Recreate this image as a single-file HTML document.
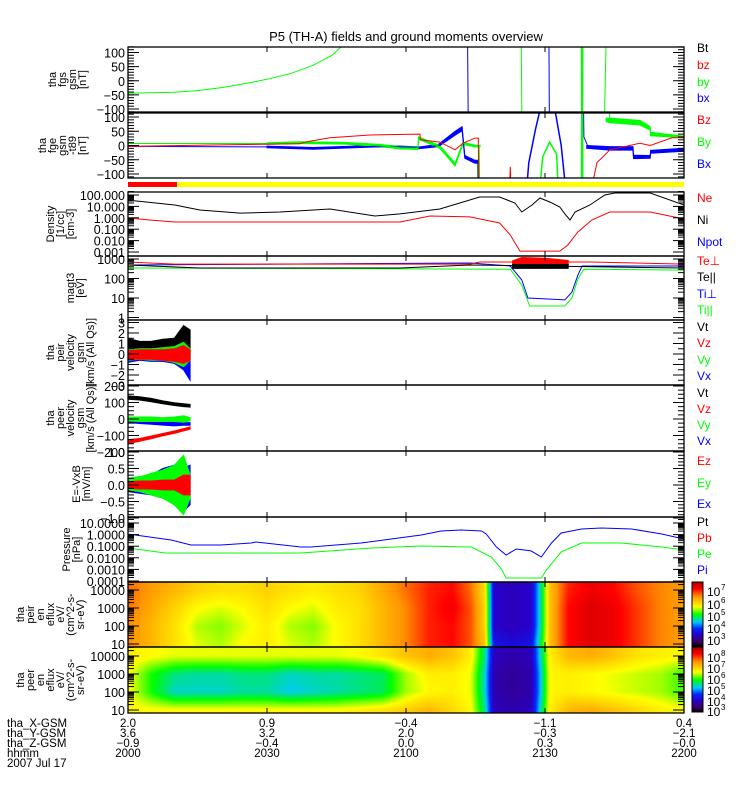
<!DOCTYPE html>
<html><head><meta charset="utf-8">
<style>
html,body{margin:0;padding:0;background:#fff;}
#wrap{position:relative;width:750px;height:800px;overflow:hidden;}
canvas{position:absolute;left:0;top:0;}
svg{position:absolute;left:0;top:0;}
text{font-family:"Liberation Sans",sans-serif;}
</style></head>
<body>
<div id="wrap">
<canvas id="cv" width="750" height="800"></canvas>
<svg id="sv" width="750" height="800" xmlns="http://www.w3.org/2000/svg"></svg>
</div>
<script>
// ---------- DATA ----------
const hhmmLabels=["2000","2030","2100","2130","2200"];
const xGsm=["2.0","0.9","-0.4","-1.1","0.4"];
const yGsm=["3.6","3.2","2.0","-0.3","-2.1"];
const zGsm=["-0.9","-0.4","0.0","0.3","-0.0"];

// panel 1 fgs
const p1GreenT=[0,10,15,20,26,30,35,40,44,46];
const p1GreenV=[-44,-41,-35,-25,-8,5,25,55,90,120];
const p1Blue1T=[73.2,73.5]; const p1Blue1V=[300,-300];
const p1Green2T=[84.8,85.1]; const p1Green2V=[300,-300];
const p1Blue2T=[90.8,91.0]; const p1Blue2V=[300,-300];
const p1Green3T=[97.9,98.0,98.1]; const p1Green3V=[300,-300,300];
const p1Green4T=[102.6,103.4]; const p1Green4V=[-300,300];

// panel 2 fge-t89
const p2RedAT=[0,20,37,38.6,43.6,52.2,63,63.1,67.3,70.6,72.3,74.9,75.6,75.8];
const p2RedAV=[-3,2,6,13,27,37,40,20,12,-15,8,26,26,-300];
const p2RedBT=[82,82.5,83]; const p2RedBV=[-300,-75,-300];
const p2RedCT=[98.2,101.2,102.5,104,110.5,112.7,117.4,120];
const p2RedCV=[-300,-60,-40,-15,8,0,27,27];
const p2GreenAT=[0,30,37,46.8,54.4,58.7,62.6,62.7,67.3,70.6,72.3,74.9,75.8,76];
const p2GreenAV=[7,7,10,8,0,-8,-10,26,-5,-68,8,-2,-2,-300];
const p2GreenBT=[88,89.5,91,92.5,93.3]; const p2GreenBV=[-300,-40,12,-30,-300];
const p2GreenCT=[97.9,98.0,98.1]; const p2GreenCV=[-300,300,-300];
const p2GreenDT=[103.2,104,110.5,112.7,112.8,117.4,120];
const p2GreenDV=[300,90,80,60,40,32,30];
const p2BlueAT=[0,30,40,54.4,63,67.3,70.6,72.1,72.7,74.9,75.5,75.6];
const p2BlueAV=[-3,-5,-10,-2,-8,0,43,60,-40,-57,-57,-300];
const p2BlueBT=[85.3,86.5,88,89,91,92.2,93.5,95.4];
const p2BlueBV=[-300,-60,60,130,130,120,0,-300];
const p2BlueCT=[98.2,98.4,99.3,104,109,109.1,112.7,112.8,120];
const p2BlueCV=[300,30,-5,-10,-10,-40,-40,-22,-15];
const p2BlueBand1T=[30,40,54,63,67,70.6,72.1,72.7,74.9,75.5];
const p2BlueBand1Lo=[-8,-13,-5,-11,-4,36,52,-45,-62,-62];
const p2BlueBand1Hi=[-2,-7,1,-5,4,50,66,-35,-52,-52];
const p2GreenBand1T=[30,37,46.8,54.4,58.7,62.6,62.7,67.3,70.6,72.3,74.9,76];
const p2GreenBand1Lo=[4,7,5,-4,-12,-14,22,-10,-72,4,-5,-5];
const p2GreenBand1Hi=[10,13,11,4,-4,-6,30,0,-62,12,1,1];
const p2GreenBand2T=[103.2,104,110.5,112.7,112.8,120];
const p2GreenBand2Lo=[84,80,72,54,34,27];
const p2GreenBand2Hi=[96,96,88,66,46,33];
const p2BlueBand2T=[99,104,109,109.1,112.7,112.8,120];
const p2BlueBand2Lo=[-10,-16,-16,-46,-45,-27,-20];
const p2BlueBand2Hi=[0,-4,-4,-34,-35,-17,-10];

// density
const denBlackT=[0,10.1,15.5,24.2,32.8,43.6,53.3,58.7,67.3,75.9,80.2,83.5,85,87.2,88.9,91.1,93.2,94.3,95.4,96.5,99.7,102.9,105.1,112.7,120];
const denBlackV=[36,13.2,4.8,2.6,3.2,5.9,1.45,2.2,5.9,67,67,20,3.2,13.2,55,24,8.9,2.2,0.64,3.2,13.2,100,150,150,13.2];
const denRedT=[0,4.7,10.1,58.7,65.2,73.8,80.2,82.5,84.6,93.2,94.9,97.1,100.1,104,112.7,120];
const denRedV=[0.96,0.64,0.43,0.43,1.45,1.2,0.35,0.031,0.0012,0.0012,0.004,0.057,0.64,3.2,3.2,0.78];

// magt3 temperatures (eV)
const teperpT=[0,10.1,73.8,75.9,99.7,120]; const teperpV=[700,550,550,700,700,550];
const teparT=[0,15.5,58.7,73.8,120]; const teparV=[490,345,345,490,345];
const tiperpT=[0,73.8,82.5,85,86.3,94.3,95.8,97.1,98,120];
const tiperpV=[490,620,440,84,10,8,20,150,440,440];
const tiparT=[0,82.5,85,86.7,94.3,95.8,97.1,98.4,120];
const tiparV=[345,300,46,3.9,3.9,10,94,300,270];
const teperpNoiseT=[83,85,90,95]; const teperpNoiseLo=[520,520,520,520]; const teperpNoiseHi=[800,1200,1100,850];
const teparNoiseT=[83,95]; const teparNoiseLo=[330,330]; const teparNoiseHi=[520,520];

// velocities / E field (noisy: low/high envelopes)
const velT=[0,2.5,5,7.5,10,12,13.4];
const peirVtLo=[0,0.1,0.1,0.2,0.2,0.4,0.5], peirVtHi=[1.5,1.2,1.2,1.4,1.5,2.7,2.3];
const peirVxLo=[-0.8,-0.6,-0.7,-0.7,-0.9,-1.5,-2.5], peirVxHi=[0.3,0.3,0.4,0.4,0.5,0.6,0.4];
const peirVyLo=[-0.6,-0.5,-0.6,-0.6,-0.8,-1.2,-0.6], peirVyHi=[0.4,0.5,0.5,0.6,0.7,1.1,0.5];
const peirVzLo=[-0.5,-0.5,-0.5,-0.6,-0.7,-0.9,-0.6], peirVzHi=[0.3,0.4,0.4,0.4,0.5,0.8,0.4];
const peerVtLo=[120,115,105,92,82,75,72], peerVtHi=[140,135,125,110,98,92,88];
const peerVyLo=[-12,-15,-15,-15,-15,-20,-12], peerVyHi=[12,12,12,8,12,20,8];
const peerVxLo=[-22,-27,-32,-37,-42,-38,-38], peerVxHi=[-8,-8,-13,-18,-18,-22,-22];
const peerVzLo=[-150,-135,-120,-102,-87,-72,-62], peerVzHi=[-125,-118,-103,-88,-73,-58,-48];
const exLo=[-0.2,-0.25,-0.3,-0.4,-0.5,-0.8,-0.6], exHi=[0.2,0.25,0.3,0.5,0.6,0.5,0.6];
const eyLo=[-0.15,-0.2,-0.3,-0.4,-0.6,-0.9,-0.4], eyHi=[0.2,0.25,0.35,0.45,0.6,0.9,0.3];
const ezLo=[-0.1,-0.12,-0.12,-0.15,-0.15,-0.3,-0.3], ezHi=[0.1,0.12,0.12,0.15,0.15,0.3,0.3];

// pressure
const piT=[0,9.3,13.6,20.1,26.6,27.6,37.3,39.5,50.3,56.8,63.3,67.6,71.9,76.3,77.3,79.5,81.6,83.8,87,89.2,91.4,93.5,97.9,102.2,108.7,115.2,120];
const piV=[1.13,0.34,0.126,0.126,0.19,0.23,0.086,0.086,0.19,0.42,0.93,2.04,2.5,2.04,1.13,0.086,0.0175,0.057,0.039,0.0118,0.19,1.37,3.04,3.7,3.04,1.13,0.42];
const peT=[0,8.0,15.5,24.2,37.3,43.8,52.5,63.3,74.1,78.4,80.6,81.6,89.2,90.3,93.5,97.9,106.5,115.2,120];
const peV=[0.07,0.026,0.026,0.026,0.026,0.039,0.07,0.104,0.086,0.0118,0.00108,0.00018,0.00018,0.00089,0.032,0.19,0.19,0.086,0.047];

// spectrograms (log10 energy flux)
const specT=[0,5,10,15,20,25,30,35,40,45,50,55,60,65,70,74,77,79,83,87,89,91,95,100,105,110,115,120];
const specE=[4,3,2,1];
const ionFlux10k=[6.5,6.3,6.1,5.9,5.8,5.8,5.9,5.8,5.7,5.8,5.9,6.2,6.5,6.8,6.9,6.5,5.8,3.5,3.4,3.5,4.6,6.0,6.8,7.0,6.9,6.6,6.4,6.3];
const ionFlux1k=[6.5,6.2,5.9,5.6,5.5,5.6,5.8,5.6,5.5,5.7,5.8,6.1,6.4,6.8,7.0,6.6,5.9,3.5,3.4,3.5,4.6,6.0,6.9,7.1,7.0,6.7,6.4,6.3];
const ionFlux100=[6.4,6.1,5.8,5.4,5.3,5.5,5.7,5.4,5.3,5.6,5.8,6.1,6.4,6.8,6.9,6.6,5.9,3.5,3.4,3.5,4.6,6.0,6.9,7.1,7.0,6.7,6.4,6.3];
const ionFlux10=[6.4,6.1,5.8,5.5,5.4,5.6,5.7,5.5,5.4,5.6,5.8,6.1,6.4,6.8,6.9,6.6,6.0,3.7,3.6,3.7,4.8,6.0,6.9,7.1,7.0,6.7,6.4,6.3];
const eleFlux10k=[6.4,6.3,6.2,6.2,6.2,6.2,6.2,6.2,6.2,6.2,6.3,6.5,6.8,7.0,6.8,6.4,5.2,3.6,3.5,3.6,5.0,6.4,6.9,7.0,6.8,6.5,6.4,6.3];
const eleFlux1k=[6.3,5.6,5.2,5.1,5.1,5.2,5.2,5.0,5.1,5.1,5.2,5.3,6.0,6.4,6.4,6.2,5.0,3.5,3.4,3.5,4.8,6.3,6.4,6.3,6.2,6.1,6.0,5.7];
const eleFlux100=[6.3,5.6,5.0,5.0,5.0,5.1,5.1,4.9,5.0,5.1,5.2,5.3,6.0,6.3,6.4,6.2,5.0,3.5,3.4,3.5,4.8,6.3,6.4,6.3,6.2,6.1,6.0,5.7];
const eleFlux10=[6.3,6.3,6.3,6.3,6.3,6.3,6.3,6.3,6.3,6.3,6.4,6.5,6.7,6.9,6.6,6.3,5.2,3.6,3.5,3.6,5.0,6.4,6.9,7.0,6.8,6.6,6.4,6.3];

// ---------- RENDER ----------
const NS="http://www.w3.org/2000/svg";
const sv=document.getElementById('sv');
const X0=128,X1=684;
const tx=t=>X0+t*(X1-X0)/120;
function el(tag,attrs,parent){const e=document.createElementNS(NS,tag);for(const k in attrs)e.setAttribute(k,attrs[k]);(parent||sv).appendChild(e);return e;}
function txt(s,x,y,attrs,parent){const e=el('text',Object.assign({x:x,y:y,'font-size':12},attrs||{}),parent);e.textContent=s;return e;}
const lg=v=>Math.log10(Math.max(v,1e-9));
const panels=[
 {id:'fgs',top:47,bot:112,y:v=>80.75-v*0.2825},
 {id:'fge',top:113,bot:178,y:v=>145.5-v*0.285},
 {id:'density',top:192,bot:256,y:v=>195-(lg(v)-2)*11.4},
 {id:'magt3',top:256,bot:320,y:v=>259-(lg(v)-3)*19.5},
 {id:'peir',top:320,bot:385,y:v=>354-v*10.5},
 {id:'peer',top:385,bot:451,y:v=>419-v*0.165},
 {id:'efield',top:451,bot:517,y:v=>485-v*33},
 {id:'pressure',top:517,bot:582,y:v=>523-(lg(v)-1)*11.6},
 {id:'ion-spec',top:582,bot:647,y:v=>590+(4-lg(v))*18},
 {id:'ele-spec',top:647,bot:713,y:v=>656+(4-lg(v))*18}
];
const defs=el('defs',{});
panels.forEach(p=>{const c=el('clipPath',{id:'clip-'+p.id},defs);el('rect',{x:X0,y:p.top,width:X1-X0,height:p.bot-p.top},c);});
const P={};panels.forEach(p=>P[p.id]=p);

function line(pid,ts,vs,color,name,w){
 const p=P[pid];
 const pts=ts.map((t,i)=>tx(t).toFixed(1)+','+p.y(vs[i]).toFixed(1)).join(' ');
 const e=el('polyline',{points:pts,fill:'none',stroke:color,'stroke-width':w||1,'clip-path':'url(#clip-'+pid+')'});
 
 
 return e;
}
function band(pid,ts,lo,hi,color,name){
 const p=P[pid];
 const a=ts.map((t,i)=>tx(t).toFixed(1)+','+p.y(hi[i]).toFixed(1));
 const b=ts.map((t,i)=>tx(t).toFixed(1)+','+p.y(lo[i]).toFixed(1)).reverse();
 const e=el('polygon',{points:a.concat(b).join(' '),fill:color,stroke:color,'stroke-width':1,'clip-path':'url(#clip-'+pid+')'});
 
 
 return e;
}
const R='#ff0000',G='#00ff00',B='#0000ff',K='#000000';

// ---- spectrograms on canvas ----
const cv=document.getElementById('cv');const ctx=cv.getContext('2d');
const cmapStops=[[0,0,0,0],[0.08,60,0,100],[0.18,40,0,200],[0.28,0,40,255],[0.38,0,200,255],[0.5,0,255,0],[0.62,255,255,0],[0.78,255,150,0],[0.9,255,0,0],[1,170,0,0]];
function cmap(c){c=Math.max(0,Math.min(1,c));for(let i=1;i<cmapStops.length;i++){const a=cmapStops[i-1],b=cmapStops[i];if(c<=b[0]){const f=(c-a[0])/(b[0]-a[0]);return [a[1]+(b[1]-a[1])*f,a[2]+(b[2]-a[2])*f,a[3]+(b[3]-a[3])*f];}}return [170,0,0];}
function interp(xs,ys,x){if(x<=xs[0])return ys[0];for(let i=1;i<xs.length;i++){if(x<=xs[i]){const f=(x-xs[i-1])/(xs[i]-xs[i-1]);return ys[i-1]+(ys[i]-ys[i-1])*f;}}return ys[ys.length-1];}
function spectro(pid,rows,cmin,cmax){
 const p=P[pid];const w=X1-X0,h=p.bot-p.top;
 const img=ctx.createImageData(w,h);
 for(let i=0;i<w;i++){
  const t=(i+0.5)*120/w;
  const col=rows.map(r=>interp(specT,r,t));
  for(let j=0;j<h;j++){
   const yy=p.top+j+0.5;
   const le=4-(yy-p.y(10000))/18;
   const v=interp(specE.slice().reverse(),col.slice().reverse(),le);
   const c=cmap((v-cmin)/(cmax-cmin));
   const k=(j*w+i)*4;img.data[k]=c[0];img.data[k+1]=c[1];img.data[k+2]=c[2];img.data[k+3]=255;
  }
 }
 ctx.putImageData(img,X0,p.top);
}
spectro('ion-spec',[ionFlux10k,ionFlux1k,ionFlux100,ionFlux10],2.6,7.4);
spectro('ele-spec',[eleFlux10k,eleFlux1k,eleFlux100,eleFlux10],2.6,8.5);
function cbar(y0,y1){for(let y=y0;y<y1;y++){const c=cmap(1-(y-y0)/(y1-y0));ctx.fillStyle='rgb('+c.map(Math.round).join(',')+')';ctx.fillRect(692,y,11,1);}}
cbar(582,646);cbar(647,712);

// ---- title ----
const ti=txt('P5 (TH-A) fields and ground moments overview',406,41,{'font-size':13,'text-anchor':'middle'});


// ---- mode bar ----
const mb1=el('rect',{x:X0,y:182,width:49,height:5,fill:R});

const mb2=el('rect',{x:177,y:182,width:X1-177,height:5,fill:'#ffff00'});


// ---- series ----
line('fgs',p1GreenT,p1GreenV,G,'fgs-by-line');
line('fgs',p1Blue1T,p1Blue1V,B,'fgs-bx-spike-1');
line('fgs',p1Green2T,p1Green2V,G,'fgs-by-spike-1');
line('fgs',p1Blue2T,p1Blue2V,B,'fgs-bx-spike-2');
line('fgs',p1Green3T,p1Green3V,G,'fgs-by-spike-2',2);
line('fgs',p1Green4T,p1Green4V,G,'fgs-by-spike-3');

band('fge',p2BlueBand1T,p2BlueBand1Lo,p2BlueBand1Hi,B,'fge-bx-noise-1');
band('fge',p2GreenBand1T,p2GreenBand1Lo,p2GreenBand1Hi,G,'fge-by-noise-1');
band('fge',p2GreenBand2T,p2GreenBand2Lo,p2GreenBand2Hi,G,'fge-by-noise-2');
band('fge',p2BlueBand2T,p2BlueBand2Lo,p2BlueBand2Hi,B,'fge-bx-noise-2');
line('fge',p2BlueAT,p2BlueAV,B,'fge-bx-line-1');
line('fge',p2BlueBT,p2BlueBV,B,'fge-bx-line-2',1.5);
line('fge',p2BlueCT,p2BlueCV,B,'fge-bx-line-3');
line('fge',p2GreenAT,p2GreenAV,G,'fge-by-line-1');
line('fge',p2GreenBT,p2GreenBV,G,'fge-by-line-2',1.5);
line('fge',p2GreenCT,p2GreenCV,G,'fge-by-line-3',2);
line('fge',p2GreenDT,p2GreenDV,G,'fge-by-line-4');
line('fge',p2RedAT,p2RedAV,R,'fge-bz-line-1');
line('fge',p2RedBT,p2RedBV,R,'fge-bz-line-2');
line('fge',p2RedCT,p2RedCV,R,'fge-bz-line-3');

line('density',denBlackT,denBlackV,K,'density-ni-line');
line('density',denRedT,denRedV,R,'density-ne-line');

line('magt3',tiparT,tiparV,G,'ti-parallel-line');
line('magt3',tiperpT,tiperpV,B,'ti-perp-line');
line('magt3',teparT,teparV,K,'te-parallel-line');
line('magt3',teperpT,teperpV,R,'te-perp-line');
band('magt3',teperpNoiseT,teperpNoiseLo,teperpNoiseHi,R,'te-perp-noise');
band('magt3',teparNoiseT,teparNoiseLo,teparNoiseHi,K,'te-parallel-noise');

band('peir',velT,peirVtLo,peirVtHi,K,'peir-vt-band');
band('peir',velT,peirVxLo,peirVxHi,B,'peir-vx-band');
band('peir',velT,peirVyLo,peirVyHi,G,'peir-vy-band');
band('peir',velT,peirVzLo,peirVzHi,R,'peir-vz-band');
band('peer',velT,peerVtLo,peerVtHi,K,'peer-vt-band');
band('peer',velT,peerVxLo,peerVxHi,B,'peer-vx-band');
band('peer',velT,peerVyLo,peerVyHi,G,'peer-vy-band');
band('peer',velT,peerVzLo,peerVzHi,R,'peer-vz-band');
band('efield',velT,exLo,exHi,B,'efield-ex-band');
band('efield',velT,eyLo,eyHi,G,'efield-ey-band');
band('efield',velT,ezLo,ezHi,R,'efield-ez-band');

line('pressure',piT,piV,B,'pressure-pi-line');
line('pressure',peT,peV,G,'pressure-pe-line');

// ---- axes ----
const linTicks={fgs:[100,50,0,-50,-100],fge:[100,50,0,-50,-100],peir:[3,2,1,0,-1,-2,-3],peer:[200,100,0,-100,-200],efield:[1.0,0.5,0.0,-0.5,-1.0]};
const linMinor={fgs:10,fge:10,peir:0.5,peer:25,efield:0.1};
const logTicks={density:[100,10,1,0.1,0.01,0.001],magt3:[1000,100,10,1],pressure:[10,1,0.1,0.01,0.001,0.0001],'ion-spec':[10000,1000,100,10],'ele-spec':[10000,1000,100,10]};
const logFmt={density:v=>v.toFixed(3),pressure:v=>v.toFixed(4),magt3:v=>String(v),'ion-spec':v=>String(v),'ele-spec':v=>String(v)};
function tk(x1,y1,x2,y2,g){el('line',{x1:x1,y1:y1,x2:x2,y2:y2,stroke:'#000','stroke-width':1},g);}
panels.forEach(p=>{
 const g=el('g',{});
 
 
 const inR=y=>y>=p.top-0.5&&y<=p.bot+0.5;
 if(linTicks[p.id]){
  const tks=linTicks[p.id];const mn=linMinor[p.id];
  const lo=Math.min(...tks),hi=Math.max(...tks);
  for(let v=lo-2*mn;v<=hi+2*mn+1e-9;v+=mn){const y=p.y(v);if(!inR(y))continue;tk(X0,y,X0+6,y,g);tk(X1,y,X1-6,y,g);}
  tks.forEach(v=>{const y=p.y(v);tk(X0,y,X0+11,y,g);tk(X1,y,X1-11,y,g);
   const s=(v<0?'\u2212':'')+(p.id==='efield'?Math.abs(v).toFixed(1):String(Math.abs(v)));
   txt(s,125,y+5,{'text-anchor':'end','font-size':12.5},g);});
 } else {
  const tks=logTicks[p.id];
  tks.forEach(v=>{for(let m=2;m<=9;m++){const y=p.y(v*m);if(inR(y)){tk(X0,y,X0+6,y,g);tk(X1,y,X1-6,y,g);}}
   const y=p.y(v);tk(X0,y,X0+11,y,g);tk(X1,y,X1-11,y,g);
   txt(logFmt[p.id](v),125,y+5,{'text-anchor':'end','font-size':12.5},g);});
 }
 [30,60,90].forEach(t=>{tk(tx(t),p.top,tx(t),p.top+5,g);tk(tx(t),p.bot,tx(t),p.bot-5,g);});
 el('rect',{x:X0,y:p.top,width:X1-X0,height:p.bot-p.top,fill:'none',stroke:'#000','stroke-width':1.3},g);
});

// ---- y-axis titles ----
const yTitles=[
 ['fgs',['tha','fgs','gsm','[nT]']],
 ['fge',['tha','fge','gsm','-t89','[nT]']],
 ['density',['Density','[1/cc]','[cm-3]']],
 ['magt3',['magt3','[eV]']],
 ['peir',['tha','peir','velocity','gsm','[km/s (All Qs)]']],
 ['peer',['tha','peer','velocity','gsm','[km/s (All Qs)]']],
 ['efield',['E=-VxB','[mV/m]']],
 ['pressure',['Pressure','[nPa]']],
 ['ion-spec',['tha','peir','en','eflux','eV/','(cm^2-s-','sr-eV)']],
 ['ele-spec',['tha','peer','en','eflux','eV/','(cm^2-s-','sr-eV)']]
];
const titleLastX={fgs:86,fge:86,density:74,magt3:84,peir:94,peer:94,efield:90,pressure:80,'ion-spec':84,'ele-spec':84};
yTitles.forEach(([pid,lines])=>{
 const p=P[pid];const cy=(p.top+p.bot)/2;
 const g=el('g',{});
 
 
 const n=lines.length;const lastX=titleLastX[pid];
 lines.forEach((s,i)=>{const x=lastX-(n-1-i)*10;
  txt(s,x,cy,{'text-anchor':'middle','font-size':11,transform:'rotate(-90 '+x+' '+cy+')'},g);});
});

// ---- legends ----
const legends=[
 [['Bt',K,52],['bz',R,69],['by',G,86],['bx',B,102]],
 [['Bz',R,124],['By',G,146],['Bx',B,168]],
 [['Ne',R,202],['Ni',K,224],['Npot',B,246]],
 [['Te\u22a5',R,265],['Te||',K,281],['Ti\u22a5',B,298],['Ti||',G,314]],
 [['Vt',K,331],['Vz',R,347],['Vy',G,364],['Vx',B,380]],
 [['Vt',K,397],['Vz',R,413],['Vy',G,429],['Vx',B,445]],
 [['Ez',R,465],['Ey',G,487],['Ex',B,508]],
 [['Pt',K,526],['Pb',R,542],['Pe',G,558],['Pi',B,574]]
];
legends.forEach((L,i)=>{
 const g=el('g',{});
 
 
 L.forEach(([s,c,y])=>{const e=txt(s,697,y,{fill:c,'font-size':12},g);
  
  });
});
const cb1Labels=[['7',592],['6',605],['5',617],['4',629],['3',641]];
const cb2Labels=[['8',658],['7',669],['6',680],['5',691],['4',702],['3',712]];
[[cb1Labels,'ion-colorbar-labels'],[cb2Labels,'electron-colorbar-labels']].forEach(([arr,nm])=>{
 const g=el('g',{});
 
 
 arr.forEach(([e,y])=>{txt('10',707,y+4,{'font-size':12},g);txt(e,721,y-2,{'font-size':8},g);});
});
el('rect',{x:692,y:582,width:11,height:64,fill:'none',stroke:'#000','stroke-width':1});
el('rect',{x:692,y:647,width:11,height:65,fill:'none',stroke:'#000','stroke-width':1});

// ---- bottom annotation ----
const bg=el('g',{});


const rowsB=[['tha_X-GSM',xGsm,727],['tha_Y-GSM',yGsm,737],['tha_Z-GSM',zGsm,747],['hhmm',hhmmLabels,757]];
rowsB.forEach(([lab,vals,y])=>{txt(lab,7,y,{'font-size':11.5},bg);
 vals.forEach((v,i)=>txt(v.replace('-','\u2212'),X0+i*(X1-X0)/4,y,{'font-size':11.5,'text-anchor':'middle'},bg));});
txt('2007 Jul 17',7,767,{'font-size':11.5},bg);
</script>
</body></html>
